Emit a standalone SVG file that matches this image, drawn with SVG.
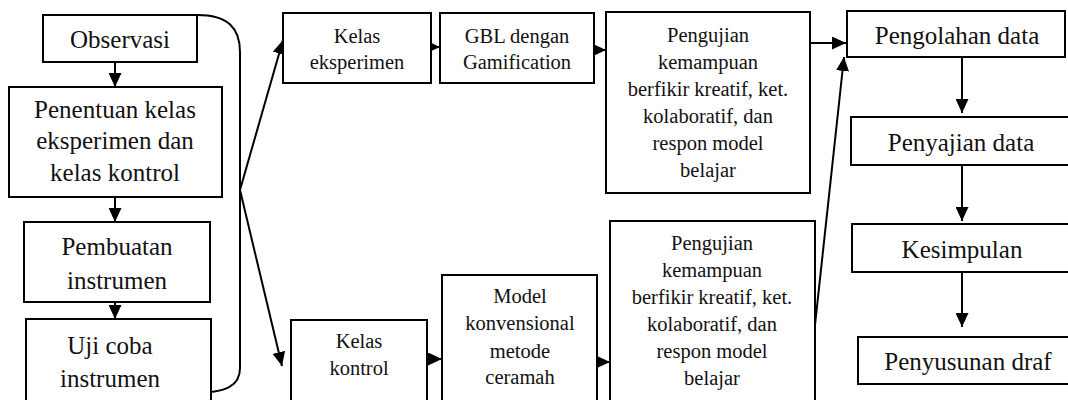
<svg xmlns="http://www.w3.org/2000/svg" width="1068" height="400" viewBox="0 0 1068 400">
<defs>
<style>
.box{fill:#fff;stroke:#000;stroke-width:2}
.t{font-family:"Liberation Serif","Times New Roman",serif;fill:#111;text-anchor:middle}
.L{font-size:25px}
.S{font-size:20.5px}
.c{fill:none;stroke:#000;stroke-width:2}
</style>
<marker id="ah" markerUnits="userSpaceOnUse" markerWidth="14" markerHeight="13" refX="14" refY="6.5" orient="auto">
<path d="M0,0 L14,6.5 L0,13 z" fill="#000"/>
</marker>
</defs>
<rect width="1068" height="400" fill="#fff"/>
<g id="connectors">
<path class="c" d="M197,15 C228,15 240,28 240,52 L240,368 C240,385 228,393 192,393"/>
<line class="c" x1="240" y1="190" x2="283" y2="40" marker-end="url(#ah)"/>
<line class="c" x1="240" y1="190" x2="282" y2="366" marker-end="url(#ah)"/>
<line class="c" x1="115" y1="62" x2="115" y2="87" marker-end="url(#ah)"/>
<line class="c" x1="115" y1="197" x2="115" y2="222" marker-end="url(#ah)"/>
<line class="c" x1="115" y1="292" x2="115" y2="319" marker-end="url(#ah)"/>
<line class="c" x1="426" y1="47" x2="440" y2="47" marker-end="url(#ah)"/>
<line class="c" x1="592" y1="50" x2="606" y2="50" marker-end="url(#ah)"/>
<line class="c" x1="810" y1="43" x2="846" y2="43" marker-end="url(#ah)"/>
<line class="c" x1="815" y1="325" x2="844" y2="57" marker-end="url(#ah)"/>
<line class="c" x1="428" y1="359" x2="442" y2="359" marker-end="url(#ah)"/>
<line class="c" x1="596" y1="362" x2="610" y2="362" marker-end="url(#ah)"/>
<line class="c" x1="962" y1="57" x2="962" y2="113" marker-end="url(#ah)"/>
<line class="c" x1="962" y1="165" x2="962" y2="221" marker-end="url(#ah)"/>
<line class="c" x1="962" y1="272" x2="962" y2="327" marker-end="url(#ah)"/>
</g>
<g id="observasi"><rect class="box" x="43" y="15" width="154" height="47"/><text class="t L" x="120" y="48">Observasi</text></g>
<g id="penentuan"><rect class="box" x="9" y="87" width="213" height="110"/>
<text class="t L" x="115" y="118">Penentuan kelas</text><text class="t L" x="115" y="149">eksperimen dan</text><text class="t L" x="115" y="181">kelas kontrol</text></g>
<g id="pembuatan"><rect class="box" x="24" y="222" width="186" height="80"/>
<text class="t L" x="117" y="255">Pembuatan</text><text class="t L" x="117" y="289">instrumen</text></g>
<g id="ujicoba"><rect class="box" x="26" y="319" width="185" height="86"/>
<text class="t L" x="110" y="354">Uji coba</text><text class="t L" x="110" y="387">instrumen</text></g>
<g id="kelas-eksperimen"><rect class="box" x="283" y="13" width="148" height="70"/>
<text class="t S" x="357" y="43">Kelas</text><text class="t S" x="357" y="69">eksperimen</text></g>
<g id="gbl"><rect class="box" x="440" y="13" width="154" height="70"/>
<text class="t S" x="517" y="43">GBL dengan</text><text class="t S" x="517" y="69">Gamification</text></g>
<g id="pengujian-atas"><rect class="box" x="606" y="12" width="204" height="181"/>
<text class="t S" x="708" y="42">Pengujian</text><text class="t S" x="708" y="69">kemampuan</text><text class="t S" x="708" y="96">berfikir kreatif, ket.</text><text class="t S" x="708" y="123">kolaboratif, dan</text><text class="t S" x="708" y="150">respon model</text><text class="t S" x="708" y="177">belajar</text></g>
<g id="kelas-kontrol"><rect class="box" x="291" y="320" width="136" height="86"/>
<text class="t S" x="359" y="348">Kelas</text><text class="t S" x="359" y="375">kontrol</text></g>
<g id="model"><rect class="box" x="442" y="275" width="155" height="131"/>
<text class="t S" x="520" y="303">Model</text><text class="t S" x="520" y="330">konvensional</text><text class="t S" x="520" y="358">metode</text><text class="t S" x="520" y="384">ceramah</text></g>
<g id="pengujian-bawah"><rect class="box" x="610" y="221" width="205" height="185"/>
<text class="t S" x="712" y="250">Pengujian</text><text class="t S" x="712" y="277">kemampuan</text><text class="t S" x="712" y="304">berfikir kreatif, ket.</text><text class="t S" x="712" y="331">kolaboratif, dan</text><text class="t S" x="712" y="358">respon model</text><text class="t S" x="712" y="385">belajar</text></g>
<g id="pengolahan"><rect class="box" x="847" y="11" width="218" height="46"/><text class="t L" x="957" y="44">Pengolahan data</text></g>
<g id="penyajian"><rect class="box" x="851" y="117" width="222" height="48"/><text class="t L" x="961" y="151">Penyajian data</text></g>
<g id="kesimpulan"><rect class="box" x="852" y="224" width="222" height="48"/><text class="t L" x="962" y="258">Kesimpulan</text></g>
<g id="penyusunan"><rect class="box" x="858" y="337" width="216" height="47"/><text class="t L" x="968" y="370">Penyusunan draf</text></g>
</svg>
